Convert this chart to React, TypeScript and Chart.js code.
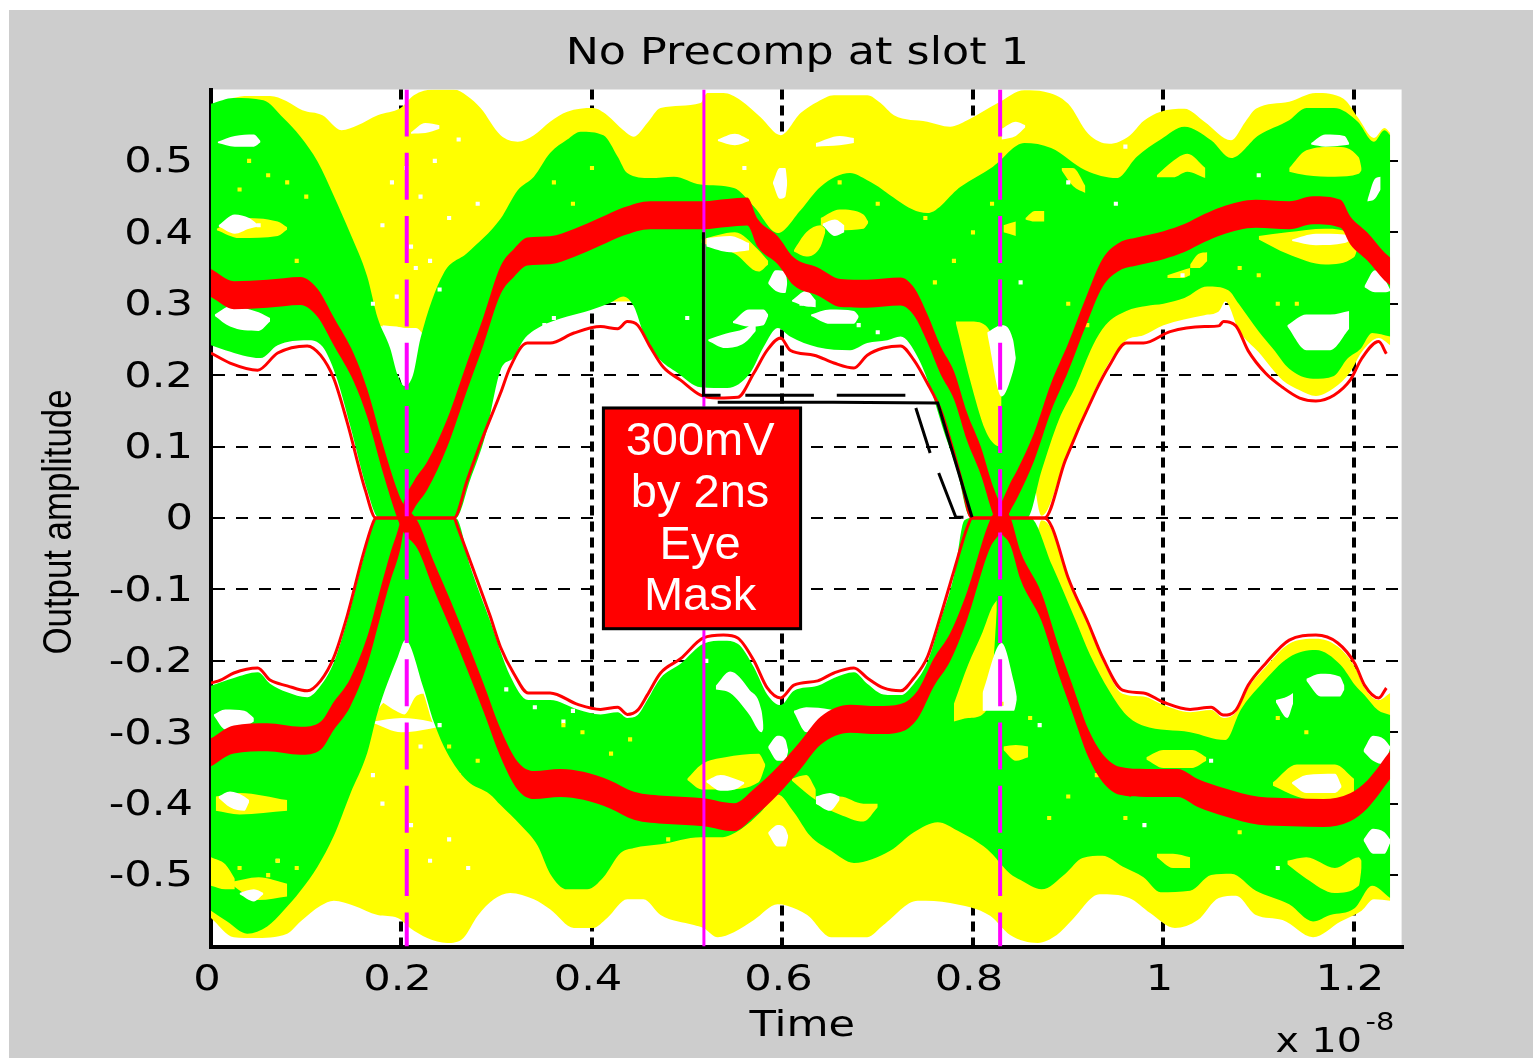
import React, { useEffect, useRef } from "react";
import { Chart, registerables } from "chart.js";

Chart.register(...registerables);

type Pt = [number, number];
type Col = [number, number, number];

const titleText = "No Precomp at slot 1";
const xTitleText = "Time";
const yTitleText = "Output amplitude";
const xTickValues = [0, 0.2, 0.4, 0.6, 0.8, 1, 1.2];
const yTickValues = [-0.5, -0.4, -0.3, -0.2, -0.1, 0, 0.1, 0.2, 0.3, 0.4, 0.5];
const boxLines = ["300mV", "by 2ns", "Eye", "Mask"];
const boxLineLevels = [0.106, 0.034, -0.039, -0.111];

// Outer yellow envelope
const yellowTopUpper: Pt[] = [[0,.574],[.023,.588],[.039,.591],[.062,.591],[.079,.584],[.096,.571],[.117,.564],[.137,.543],[.154,.55],[.175,.564],[.199,.574],[.213,.592],[.234,.6],[.255,.6],[.269,.591],[.283,.574],[.304,.536],[.322,.527],[.339,.536],[.356,.555],[.374,.569],[.401,.574],[.416,.564],[.433,.543],[.444,.534],[.458,.553],[.472,.574],[.514,.581],[.521,.595],[.538,.595],[.556,.585],[.577,.561],[.598,.536],[.619,.567],[.637,.583],[.654,.592],[.689,.592],[.703,.581],[.717,.564],[.752,.555],[.776,.548],[.794,.557],[.826,.581],[.854,.599],[.875,.597],[.9,.58],[.921,.538],[.943,.524],[.964,.535],[.979,.556],[.997,.569],[1.022,.573],[1.043,.555],[1.071,.529],[1.086,.555],[1.097,.573],[1.132,.583],[1.16,.595],[1.189,.587],[1.204,.561],[1.221,.532],[1.232,.546],[1.238,.539]];
const yellowInnerUpper: Pt[] = [[0,.305],[.16,.305],[.175,.27],[.2,.266],[.22,.252],[.26,.3],[.84,.305],[.86,.1],[.872,.003],[.897,.081],[.929,.182],[.943,.218],[.961,.249],[.979,.256],[1,.27],[1.043,.284],[1.058,.289],[1.065,.303],[1.079,.263],[1.1,.232],[1.125,.193],[1.143,.179],[1.16,.171],[1.179,.182],[1.196,.204],[1.208,.232],[1.226,.252],[1.238,.242]];
const yellowInnerLower: Pt[] = [[0,-.3],[.16,-.3],[.18,-.26],[.22,-.241],[.235,-.29],[.3,-.3],[.84,-.3],[.86,-.1],[.872,-.003],[.883,-.017],[.9,-.087],[.921,-.15],[.936,-.199],[.957,-.246],[.979,-.25],[1,-.262],[1.028,-.272],[1.05,-.269],[1.063,-.28],[1.076,-.272],[1.089,-.238],[1.107,-.209],[1.132,-.176],[1.16,-.169],[1.183,-.18],[1.201,-.209],[1.211,-.238],[1.226,-.255],[1.238,-.245]];
const yellowBottomLower: Pt[] = [[0,-.56],[.024,-.587],[.045,-.588],[.08,-.582],[.094,-.565],[.115,-.543],[.129,-.536],[.15,-.543],[.175,-.556],[.196,-.56],[.209,-.574],[.227,-.588],[.248,-.595],[.265,-.588],[.28,-.557],[.297,-.534],[.314,-.525],[.339,-.534],[.356,-.548],[.381,-.574],[.401,-.574],[.416,-.56],[.437,-.534],[.454,-.534],[.472,-.556],[.507,-.57],[.517,-.574],[.532,-.587],[.549,-.58],[.57,-.563],[.595,-.541],[.605,-.543],[.626,-.556],[.651,-.587],[.689,-.587],[.706,-.57],[.742,-.536],[.776,-.539],[.818,-.557],[.839,-.584],[.868,-.595],[.888,-.584],[.904,-.563],[.933,-.527],[.964,-.532],[.986,-.553],[1.012,-.574],[1.036,-.563],[1.058,-.532],[1.076,-.529],[1.097,-.556],[1.125,-.563],[1.157,-.587],[1.186,-.565],[1.208,-.55],[1.221,-.534],[1.238,-.536]];

// Green envelope
const greenTopUpper: Pt[] = [[0,.58],[.024,.588],[.055,.585],[.076,.56],[.094,.534],[.112,.499],[.129,.451],[.146,.399],[.164,.338],[.175,.28],[.188,.238],[.196,.2],[.203,.185],[.212,.2],[.22,.252],[.244,.342],[.269,.371],[.304,.419],[.322,.459],[.339,.478],[.356,.511],[.374,.53],[.388,.541],[.412,.536],[.427,.506],[.437,.483],[.461,.476],[.486,.478],[.514,.467],[.549,.462],[.57,.436],[.595,.399],[.619,.431],[.64,.464],[.671,.483],[.689,.473],[.752,.427],[.787,.464],[.821,.492],[.854,.525],[.882,.518],[.918,.487],[.951,.476],[.972,.506],[.997,.53],[1.022,.548],[1.05,.529],[1.071,.504],[1.1,.536],[1.132,.557],[1.15,.574],[1.179,.574],[1.204,.555],[1.221,.527],[1.232,.543],[1.238,.536]];
const greenInnerUpper: Pt[] = [[0,.242],[.015,.235],[.052,.224],[.07,.242],[.101,.249],[.117,.24],[.131,.2],[.146,.13],[.164,.039],[.176,.001],[.257,0],[.272,.053],[.288,.115],[.304,.207],[.318,.225],[.328,.249],[.346,.268],[.374,.282],[.398,.291],[.419,.301],[.433,.31],[.444,.296],[.454,.259],[.469,.225],[.49,.203],[.514,.183],[.542,.182],[.566,.203],[.58,.239],[.595,.266],[.608,.254],[.637,.239],[.671,.235],[.689,.245],[.71,.249],[.724,.254],[.742,.225],[.755,.183],[.769,.123],[.784,.063],[.794,.007],[.8,0],[.857,0],[.872,.066],[.89,.137],[.908,.185],[.926,.242],[.939,.27],[.961,.29],[.982,.297],[1,.3],[1.022,.308],[1.046,.324],[1.068,.319],[1.079,.3],[1.1,.261],[1.115,.237],[1.132,.209],[1.157,.195],[1.179,.199],[1.193,.223],[1.207,.237],[1.219,.259],[1.238,.254]];
const greenInnerLower: Pt[] = [[0,-.235],[.024,-.224],[.049,-.216],[.062,-.232],[.08,-.244],[.101,-.251],[.115,-.235],[.129,-.202],[.143,-.143],[.16,-.056],[.173,0],[.257,0],[.272,-.067],[.293,-.144],[.314,-.221],[.333,-.255],[.356,-.255],[.385,-.268],[.409,-.275],[.427,-.272],[.437,-.28],[.448,-.276],[.458,-.255],[.472,-.224],[.493,-.204],[.517,-.176],[.538,-.172],[.553,-.176],[.57,-.209],[.584,-.247],[.598,-.262],[.612,-.242],[.637,-.235],[.654,-.224],[.675,-.216],[.689,-.232],[.706,-.247],[.724,-.248],[.738,-.232],[.752,-.202],[.766,-.143],[.78,-.081],[.791,-.003],[.8,0],[.86,0],[.883,-.066],[.909,-.147],[.923,-.192],[.943,-.242],[.961,-.276],[.979,-.291],[1.028,-.3],[1.065,-.311],[1.081,-.269],[1.102,-.234],[1.132,-.195],[1.16,-.185],[1.186,-.206],[1.201,-.234],[1.211,-.248],[1.225,-.269],[1.238,-.276]];
const greenBottomLower: Pt[] = [[0,-.55],[.017,-.565],[.038,-.582],[.059,-.572],[.076,-.55],[.094,-.522],[.112,-.488],[.129,-.445],[.146,-.387],[.164,-.329],[.175,-.272],[.196,-.195],[.204,-.171],[.223,-.238],[.234,-.286],[.248,-.329],[.269,-.368],[.293,-.387],[.304,-.402],[.325,-.43],[.343,-.459],[.356,-.498],[.374,-.52],[.395,-.52],[.412,-.503],[.43,-.469],[.444,-.462],[.472,-.457],[.514,-.447],[.535,-.447],[.556,-.436],[.577,-.412],[.595,-.387],[.612,-.412],[.629,-.445],[.651,-.466],[.675,-.483],[.713,-.466],[.738,-.44],[.763,-.426],[.784,-.438],[.815,-.464],[.839,-.498],[.85,-.507],[.872,-.52],[.897,-.498],[.915,-.476],[.936,-.473],[.957,-.488],[.979,-.503],[.997,-.524],[1.028,-.522],[1.05,-.5],[1.071,-.498],[1.097,-.522],[1.132,-.541],[1.157,-.565],[1.175,-.556],[1.201,-.546],[1.219,-.515],[1.238,-.532]];

// Thin red eye contours
const contourUpper: Pt[] = [[0,.231],[.02,.217],[.049,.207],[.07,.231],[.101,.241],[.115,.228],[.129,.195],[.143,.134],[.162,.039],[.173,0],[.255,0],[.269,.053],[.286,.115],[.304,.175],[.314,.211],[.332,.245],[.356,.245],[.381,.259],[.409,.268],[.427,.265],[.437,.275],[.448,.27],[.461,.24],[.475,.211],[.493,.193],[.514,.172],[.532,.168],[.553,.169],[.57,.203],[.584,.235],[.598,.252],[.608,.235],[.633,.228],[.654,.217],[.675,.21],[.689,.228],[.706,.238],[.724,.241],[.738,.221],[.752,.189],[.766,.151],[.776,.109],[.787,.057],[.799,0],[.875,0],[.897,.081],[.929,.178],[.943,.213],[.961,.245],[.979,.245],[1.007,.261],[1.043,.268],[1.058,.269],[1.063,.275],[1.076,.269],[1.089,.234],[1.107,.203],[1.125,.183],[1.143,.168],[1.16,.164],[1.179,.172],[1.196,.193],[1.208,.223],[1.226,.247],[1.234,.23]];
const contourLower: Pt[] = [[0,-.231],[.01,-.227],[.024,-.217],[.049,-.21],[.062,-.227],[.08,-.235],[.101,-.242],[.115,-.228],[.129,-.195],[.143,-.137],[.16,-.05],[.17,-.007],[.173,0],[.255,0],[.259,-.013],[.272,-.06],[.293,-.137],[.304,-.181],[.318,-.218],[.333,-.245],[.356,-.245],[.385,-.261],[.409,-.268],[.427,-.265],[.437,-.275],[.448,-.269],[.458,-.248],[.472,-.217],[.493,-.197],[.517,-.168],[.538,-.164],[.553,-.168],[.57,-.2],[.584,-.238],[.598,-.252],[.612,-.234],[.637,-.228],[.654,-.217],[.675,-.21],[.689,-.224],[.706,-.238],[.724,-.242],[.738,-.224],[.752,-.195],[.766,-.137],[.78,-.074],[.794,-.013],[.799,0],[.875,0],[.883,-.013],[.9,-.084],[.921,-.147],[.936,-.195],[.957,-.241],[.979,-.245],[1,-.258],[1.028,-.268],[1.05,-.265],[1.063,-.276],[1.076,-.269],[1.089,-.234],[1.107,-.204],[1.132,-.171],[1.16,-.164],[1.183,-.175],[1.201,-.204],[1.211,-.234],[1.226,-.252],[1.234,-.238]];

// Thick red mean traces
const redTraceOne: Pt[] = [[0,.329],[.024,.312],[.059,.314],[.094,.318],[.112,.301],[.129,.261],[.15,.21],[.164,.161],[.181,.081],[.196,.018],[.202,0],[.217,-.024],[.234,-.081],[.252,-.137],[.269,-.193],[.286,-.251],[.304,-.315],[.322,-.361],[.339,-.374],[.367,-.371],[.391,-.375],[.419,-.387],[.444,-.403],[.479,-.409],[.517,-.412],[.549,-.419],[.57,-.399],[.595,-.368],[.619,-.332],[.64,-.298],[.671,-.281],[.7,-.283],[.724,-.28],[.742,-.261],[.759,-.216],[.776,-.181],[.794,-.122],[.818,-.022],[.829,0],[.839,.029],[.847,.049],[.864,.099],[.882,.169],[.9,.225],[.918,.287],[.936,.343],[.954,.366],[.972,.373],[1,.382],[1.022,.392],[1.043,.406],[1.061,.416],[1.097,.426],[1.132,.424],[1.157,.431],[1.186,.426],[1.196,.403],[1.214,.38],[1.232,.352],[1.238,.345]];
const redTraceTwo: Pt[] = [[0,-.328],[.024,-.31],[.059,-.307],[.094,-.312],[.115,-.305],[.129,-.277],[.146,-.245],[.164,-.186],[.178,-.118],[.188,-.07],[.199,-.022],[.202,0],[.213,.032],[.227,.059],[.248,.119],[.269,.199],[.286,.262],[.304,.333],[.318,.357],[.332,.373],[.356,.375],[.381,.385],[.409,.401],[.433,.415],[.461,.424],[.496,.424],[.517,.424],[.542,.427],[.563,.429],[.574,.399],[.595,.375],[.612,.345],[.637,.331],[.661,.315],[.689,.314],[.724,.317],[.738,.303],[.752,.266],[.766,.221],[.78,.186],[.794,.127],[.808,.081],[.821,.025],[.829,0],[.839,-.018],[.85,-.067],[.872,-.125],[.89,-.2],[.904,-.252],[.921,-.315],[.936,-.35],[.954,-.368],[.982,-.371],[1.015,-.371],[1.036,-.385],[1.064,-.398],[1.1,-.41],[1.135,-.412],[1.168,-.413],[1.196,-.405],[1.214,-.387],[1.238,-.346]];
const redHalfThickness = 0.0196;

// Gaps in the yellow cloud (t, upper, lower)
const whiteOnYellow: Col[][] = [
  [[.18,.27,.268],[.195,.268,.21],[.204,.266,.18],[.215,.266,.21],[.226,.252,.25]],
  [[.18,-.255,-.258],[.194,-.2,-.27],[.203,-.17,-.275],[.215,-.2,-.25],[.225,-.24,-.245]],
  [[.17,-.285,-.287],[.2,-.28,-.3],[.23,-.285,-.295],[.24,-.29,-.292]],
  [[.21,.54,.538],[.225,.553,.539],[.24,.55,.545]],
  [[.532,.53,.528],[.55,.538,.522],[.565,.53,.528]],
  [[.635,.525,.52],[.66,.535,.522],[.675,.532,.525]],
  [[.83,.545,.53],[.845,.555,.535],[.855,.55,.547]],
  [[.59,.47,.468],[.597,.49,.447],[.603,.49,.45],[.605,.47,.468]],
  [[.585,-.44,-.442],[.595,-.43,-.46],[.603,-.435,-.46],[.606,-.445,-.447]],
];

// Yellow showing through the green
const yellowBlobs: Col[][] = [
  [[.006,.405,.403],[.03,.42,.392],[.07,.415,.395],[.08,.407,.404]],
  [[.515,.39,.385],[.55,.4,.37],[.575,.375,.345],[.585,.36,.355]],
  [[.612,.375,.373],[.625,.4,.366],[.64,.41,.38],[.645,.405,.4]],
  [[.64,.42,.41],[.66,.432,.403],[.685,.425,.405],[.69,.415,.413]],
  [[1.132,.49,.485],[1.15,.515,.48],[1.18,.52,.478],[1.205,.505,.482],[1.208,.49,.487]],
  [[1.1,.395,.39],[1.13,.4,.37],[1.17,.405,.355],[1.2,.395,.365],[1.205,.385,.383]],
  [[.993,.48,.477],[1.01,.5,.477],[1.025,.51,.485],[1.044,.49,.476]],
  [[.893,.49,.487],[.905,.49,.465],[.918,.465,.455]],
  [[1.028,.355,.35],[1.037,.37,.35],[1.046,.372,.36]],
  [[1.004,.34,.336],[1.02,.347,.336],[1.028,.35,.34]],
  [[.855,.42,.418],[.865,.43,.415],[.875,.43,.415]],
  [[.832,.41,.4],[.845,.415,.395]],
  [[.782,.275,.273],[.797,.275,.193],[.813,.27,.123],[.824,.249,.102],[.83,.24,.1]],
  [[.78,-.26,-.285],[.795,-.205,-.28],[.81,-.16,-.275],[.82,-.125,-.23],[.825,-.115,-.13]],
  [[.005,-.39,-.41],[.03,-.385,-.415],[.08,-.395,-.41]],
  [[0,-.475,-.515],[.015,-.485,-.52],[.025,-.505,-.52]],
  [[.02,-.51,-.512],[.05,-.503,-.535],[.08,-.512,-.53]],
  [[.5,-.365,-.367],[.515,-.345,-.38],[.54,-.335,-.38],[.575,-.33,-.37],[.582,-.345,-.347]],
  [[.635,-.395,-.4],[.66,-.39,-.415],[.685,-.4,-.425],[.7,-.4,-.405]],
  [[.61,-.365,-.368],[.625,-.36,-.385],[.635,-.38,-.395]],
  [[1.115,-.37,-.375],[1.14,-.345,-.39],[1.18,-.345,-.4],[1.2,-.365,-.385]],
  [[1.13,-.48,-.485],[1.15,-.475,-.505],[1.18,-.49,-.525],[1.205,-.475,-.515],[1.208,-.48,-.49]],
  [[.982,-.335,-.338],[1,-.325,-.35],[1.03,-.325,-.35],[1.045,-.335,-.34]],
  [[.993,-.47,-.475],[1.01,-.47,-.49],[1.028,-.475,-.49]],
  [[.832,-.32,-.325],[.845,-.318,-.34],[.858,-.32,-.335]],
];

// Holes in the green
const whiteHoles: Col[][] = [
  [[.007,.527,.525],[.025,.535,.52],[.045,.537,.52],[.052,.528,.526]],
  [[.008,.41,.408],[.025,.425,.398],[.04,.42,.405],[.05,.41,.408]],
  [[.004,.285,.283],[.02,.296,.268],[.05,.288,.262],[.062,.28,.275]],
  [[.52,.392,.38],[.545,.395,.372],[.565,.385,.375]],
  [[.522,.25,.248],[.54,.258,.238],[.56,.265,.245],[.572,.275,.262]],
  [[.548,.275,.273],[.565,.292,.268],[.58,.292,.27],[.585,.285,.283]],
  [[.585,.33,.328],[.593,.347,.318],[.603,.345,.315],[.605,.33,.328]],
  [[.61,.305,.303],[.625,.318,.296],[.635,.305,.295]],
  [[.63,.285,.283],[.65,.292,.272],[.675,.29,.272],[.68,.283,.281]],
  [[.642,.412,.41],[.655,.418,.395],[.665,.41,.4]],
  [[1.155,.525,.523],[1.17,.537,.52],[1.19,.535,.522],[1.195,.525,.523]],
  [[1.214,.445,.443],[1.222,.475,.447],[1.228,.478,.46]],
  [[1.211,.325,.323],[1.222,.347,.316],[1.232,.335,.316],[1.238,.32,.318]],
  [[1.13,.27,.268],[1.15,.285,.235],[1.175,.285,.235],[1.195,.29,.265]],
  [[1.135,.39,.388],[1.16,.398,.382],[1.19,.397,.385],[1.195,.39,.388]],
  [[.815,.26,.258],[.83,.27,.17],[.842,.25,.205],[.845,.225,.223]],
  [[.81,-.245,-.27],[.83,-.175,-.27],[.843,-.23,-.27],[.846,-.25,-.255]],
  [[.003,-.275,-.277],[.015,-.268,-.296],[.035,-.27,-.293],[.045,-.28,-.285]],
  [[.008,-.39,-.392],[.02,-.383,-.405],[.035,-.39,-.41],[.04,-.395,-.398]],
  [[.03,-.525,-.527],[.045,-.52,-.537],[.055,-.525,-.527]],
  [[.53,-.235,-.24],[.545,-.215,-.245],[.565,-.24,-.275],[.578,-.27,-.3],[.58,-.29,-.295]],
  [[.585,-.32,-.322],[.595,-.305,-.34],[.603,-.31,-.34],[.606,-.325,-.327]],
  [[.612,-.27,-.272],[.625,-.265,-.3],[.65,-.268,-.285],[.672,-.275,-.29],[.68,-.28,-.282]],
  [[.52,-.368,-.37],[.535,-.36,-.382],[.55,-.365,-.38],[.56,-.37,-.372]],
  [[.635,-.39,-.4],[.65,-.385,-.41],[.66,-.39,-.395]],
  [[1.21,-.325,-.327],[1.22,-.305,-.34],[1.232,-.31,-.345],[1.238,-.32,-.322]],
  [[1.21,-.45,-.452],[1.22,-.435,-.47],[1.232,-.44,-.47],[1.238,-.45,-.455]],
  [[1.135,-.37,-.372],[1.15,-.36,-.385],[1.18,-.358,-.385],[1.187,-.375,-.377]],
  [[1.15,-.225,-.228],[1.165,-.218,-.25],[1.185,-.222,-.25],[1.19,-.235,-.24]],
  [[1.118,-.255,-.258],[1.13,-.25,-.28],[1.136,-.245,-.26]],
];

// Single stray samples
const whiteSpecks: Pt[] = [[.205,.49],[.235,.5],[.22,.45],[.25,.42],[.21,.38],[.23,.36],[.19,.47],[.18,.41],[.17,.3],[.195,.31],[.24,.32],[.215,.35],[.26,.53],[.28,.44],[.21,-.43],[.25,-.45],[.18,-.4],[.23,-.48],[.27,-.49],[.17,-.36],[.22,-.32],[.24,-.29],[.31,.205],[.33,.24],[.35,.27],[.36,.28],[.31,-.24],[.34,-.265],[.37,-.285],[.38,-.27],[.62,.3],[.68,.27],[.7,.26],[.72,.24],[.96,.52],[.98,-.43],[1.02,.34],[.5,.28],[.52,-.2],[.56,.49],[.6,.46],[.05,.41],[.07,-.48],[.85,.33],[.87,-.29],[.95,.44],[1.1,.48],[1.12,-.49],[1.05,-.34],[.9,.47]];
const yellowSpecks: Pt[] = [[.04,.5],[.06,.48],[.08,.47],[.1,.45],[.03,.46],[.09,.36],[.11,.3],[.07,.33],[.04,.32],[.06,-.5],[.09,-.49],[.07,-.48],[.03,-.49],[.1,-.32],[.25,-.32],[.26,-.36],[.28,-.34],[.34,.49],[.36,.47],[.38,.44],[.4,.49],[.45,.43],[.48,.42],[.5,.41],[.66,.47],[.7,.44],[.75,.42],[.9,.3],[.92,.27],[1.08,.35],[1.1,.34],[1.12,.3],[1.14,.3],[.83,-.26],[.86,-.28],[.88,-.42],[.9,-.39],[.93,-.36],[.96,-.42],[1.12,-.28],[1.15,-.3],[1.08,-.44],[.37,-.29],[.39,-.3],[.42,-.33],[.44,-.31],[.46,-.47],[.48,-.45],[.78,.36],[.8,.4],[.76,.33],[.82,.44]];

// Magenta cursors and the black eye mask
const cursorLeftT = [0.2055, 0.2055];
const cursorMiddleT = [0.5175, 0.5175];
const cursorRightT = [0.8285, 0.8285];
const cursorSpan = [0.6, -0.6];
const maskLines: (Pt | null)[] = [[.517,.4],[.517,.172],[.535,.172],null,[.561,.172],[.633,.172],null,[.657,.172],[.729,.172],null,[.532,.162],[.653,.162],[.763,.161],[.799,.001],null,[.74,.154],[.755,.091],null,[.764,.063],[.782,.001],[.79,.001]];

// Annotation box corners
const boxT = [0.412, 0.619];
const boxV = [0.154, -0.155];
const boxTextT = 0.5135;
const exponentBase = "x 10";
const exponentPower = "-8";

const YELLOW = "#ffff00";
const GREEN = "#00ff00";
const RED = "#ff0000";
const MAGENTA = "#ff00ff";
const WHITE = "#ffffff";
const WIDE_FONT = "DejaVu Sans";

const toXY = (pts: (Pt | null)[]) =>
  pts.map((p, i) => (p ? { x: p[0], y: p[1] } : { x: (pts[i - 1] as Pt)[0], y: null as any }));

const hidden = (pts: Pt[]) => ({
  data: toXY(pts),
  borderWidth: 0,
  pointRadius: 0,
  fill: false,
  cubicInterpolationMode: "monotone",
});

function buildDatasets() {
  const out: any[] = [];
  const band = (upper: Pt[], lower: Pt[], color: string) => {
    out.push({ ...hidden(upper), fill: "+1", backgroundColor: color });
    out.push(hidden(lower));
  };
  const patch = (cols: Col[], color: string) =>
    band(cols.map((c) => [c[0], c[1]] as Pt), cols.map((c) => [c[0], c[2]] as Pt), color);

  band(yellowTopUpper, yellowInnerUpper, YELLOW);
  band(yellowInnerLower, yellowBottomLower, YELLOW);
  whiteOnYellow.forEach((c) => patch(c, WHITE));
  band(greenTopUpper, greenInnerUpper, GREEN);
  band(greenInnerLower, greenBottomLower, GREEN);
  yellowBlobs.forEach((c) => patch(c, YELLOW));
  whiteHoles.forEach((c) => patch(c, WHITE));

  const specks = (pts: Pt[], color: string) =>
    out.push({
      data: toXY(pts),
      showLine: false,
      pointStyle: "rect",
      pointRadius: 2.9,
      pointBorderWidth: 0,
      pointBackgroundColor: color,
    });
  specks(whiteSpecks, WHITE);
  specks(yellowSpecks, YELLOW);

  [redTraceOne, redTraceTwo].forEach((trace) =>
    band(
      trace.map(([t, v]) => [t, v + redHalfThickness] as Pt),
      trace.map(([t, v]) => [t, v - redHalfThickness] as Pt),
      RED
    )
  );
  [contourUpper, contourLower].forEach((c) =>
    out.push({ ...hidden(c), borderWidth: 3, borderColor: RED })
  );

  const cursor = (ts: number[], width: number, dash: number[]) =>
    out.push({
      ...hidden(ts.map((t, i) => [t, cursorSpan[i]] as Pt)),
      cubicInterpolationMode: "default",
      tension: 0,
      borderWidth: width,
      borderColor: MAGENTA,
      borderDash: dash,
    });
  cursor(cursorLeftT, 4, [47, 16.3]);
  cursor(cursorMiddleT, 3, []);
  cursor(cursorRightT, 4, [47, 16.3]);

  out.push({
    ...hidden(maskLines as any),
    cubicInterpolationMode: "default",
    tension: 0,
    borderWidth: 3,
    borderColor: "#000000",
    spanGaps: false,
  });

  out.forEach((d, i) => (d.order = out.length - i));
  return out;
}

const extras = {
  id: "eyeExtras",
  beforeDraw(chart: any) {
    const { ctx, chartArea: a } = chart;
    if (!ctx.__patched) {
      const orig = ctx.fillText;
      ctx.fillText = function (text: string, x: number, y: number) {
        const wide = this.font.includes(WIDE_FONT);
        const isY = text === yTitleText;
        if (!wide && !isY) {
          orig.call(this, text, x, y);
          return;
        }
        this.save();
        if (wide) {
          const dx = this.textAlign === "center" ? -4 : 0;
          const dy = this.textBaseline === "middle" ? 2 : 0;
          this.translate(x + dx, y + dy);
          this.scale(1.2, 1);
        } else {
          this.translate(x - 4, y);
          this.scale(0.87, 1);
        }
        orig.call(this, text, 0, 0);
        this.restore();
      };
      ctx.__patched = true;
    }
    ctx.save();
    ctx.fillStyle = WHITE;
    ctx.fillRect(a.left, a.top, a.right - a.left, a.bottom - a.top);
    ctx.restore();
  },
  afterLayout(chart: any) {
    if (chart.titleBlock) chart.titleBlock.left -= 10;
  },
  afterDatasetsDraw(chart: any) {
    const { ctx } = chart;
    const { x, y } = chart.scales;
    const l = x.getPixelForValue(boxT[0]);
    const r = x.getPixelForValue(boxT[1]);
    const t = y.getPixelForValue(boxV[0]);
    const b = y.getPixelForValue(boxV[1]);
    ctx.save();
    ctx.fillStyle = "#c0c0c0";
    ctx.fillRect(l - 1.5, t - 1.5, r - l + 3, b - t + 3);
    ctx.fillStyle = RED;
    ctx.strokeStyle = "#000000";
    ctx.lineWidth = 3;
    ctx.fillRect(l, t, r - l, b - t);
    ctx.strokeRect(l, t, r - l, b - t);
    ctx.fillStyle = WHITE;
    ctx.font = '47px "Liberation Sans"';
    ctx.textAlign = "center";
    ctx.textBaseline = "middle";
    boxLines.forEach((s, i) =>
      ctx.fillText(s, x.getPixelForValue(boxTextT), y.getPixelForValue(boxLineLevels[i]))
    );
    ctx.restore();
  },
  afterDraw(chart: any) {
    const { ctx } = chart;
    const { x } = chart.scales;
    ctx.save();
    ctx.fillStyle = "#000000";
    ctx.textAlign = "left";
    ctx.textBaseline = "alphabetic";
    ctx.font = `33px "${WIDE_FONT}"`;
    ctx.fillText(exponentBase, x.right - 126, chart.height - 6);
    ctx.font = `24px "${WIDE_FONT}"`;
    ctx.fillText(exponentPower, x.right - 36, chart.height - 28);
    ctx.restore();
  },
};

const fmt = (v: number) => String(+v.toFixed(1));

export default function App() {
  const ref = useRef<HTMLCanvasElement>(null);
  useEffect(() => {
    const chart = new Chart(ref.current as HTMLCanvasElement, {
      type: "line",
      data: { datasets: buildDatasets() },
      plugins: [extras],
      options: {
        animation: false,
        responsive: false,
        devicePixelRatio: 1,
        layout: { autoPadding: false, padding: { left: 0, top: 0, right: 131.4, bottom: 0 } },
        plugins: {
          legend: { display: false },
          tooltip: { enabled: false },
          title: {
            display: true,
            text: titleText,
            color: "#000000",
            fullSize: false,
            font: { family: WIDE_FONT, size: 37, weight: "normal" },
            padding: { top: 20, bottom: 15.1 },
          },
        },
        scales: {
          x: {
            type: "linear",
            min: 0,
            max: 1.25,
            afterFit: (s: any) => { s.height = 111.5; },
            afterBuildTicks: (s: any) => { s.ticks = xTickValues.map((value) => ({ value })); },
            border: { color: "#000000", width: 4, dash: [10, 6] },
            grid: { color: "#000000", lineWidth: 4, drawTicks: false },
            ticks: {
              color: "#000000",
              padding: 11,
              maxRotation: 0,
              autoSkip: false,
              font: { family: WIDE_FONT, size: 36, weight: "normal" },
              callback: (v: any) => fmt(Number(v)),
            },
            title: {
              display: true,
              text: xTitleText,
              color: "#000000",
              padding: { top: 0, bottom: 12 },
              font: { family: WIDE_FONT, size: 36, weight: "normal" },
            },
          },
          y: {
            type: "linear",
            min: -0.6,
            max: 0.6,
            afterFit: (s: any) => { s.width = 202; },
            afterBuildTicks: (s: any) => { s.ticks = yTickValues.map((value) => ({ value })); },
            border: { color: "#000000", width: 4, dash: [12, 11] },
            grid: { color: "#000000", lineWidth: 2, drawTicks: false },
            ticks: {
              color: "#000000",
              padding: 18,
              autoSkip: false,
              font: { family: WIDE_FONT, size: 36, weight: "normal" },
              callback: (v: any) => fmt(Number(v)),
            },
            title: {
              display: true,
              text: yTitleText,
              color: "#000000",
              padding: { top: 27, bottom: 0 },
              font: { family: "Liberation Sans", size: 40, weight: "normal" },
            },
          },
        },
      } as any,
    });
    return () => chart.destroy();
  }, []);
  return (
    <div style={{ position: "absolute", left: 9, top: 10, width: 1524, height: 1048, background: "#cdcdcd" }}>
      <canvas ref={ref} width={1524} height={1048} style={{ display: "block" }} />
    </div>
  );
}
